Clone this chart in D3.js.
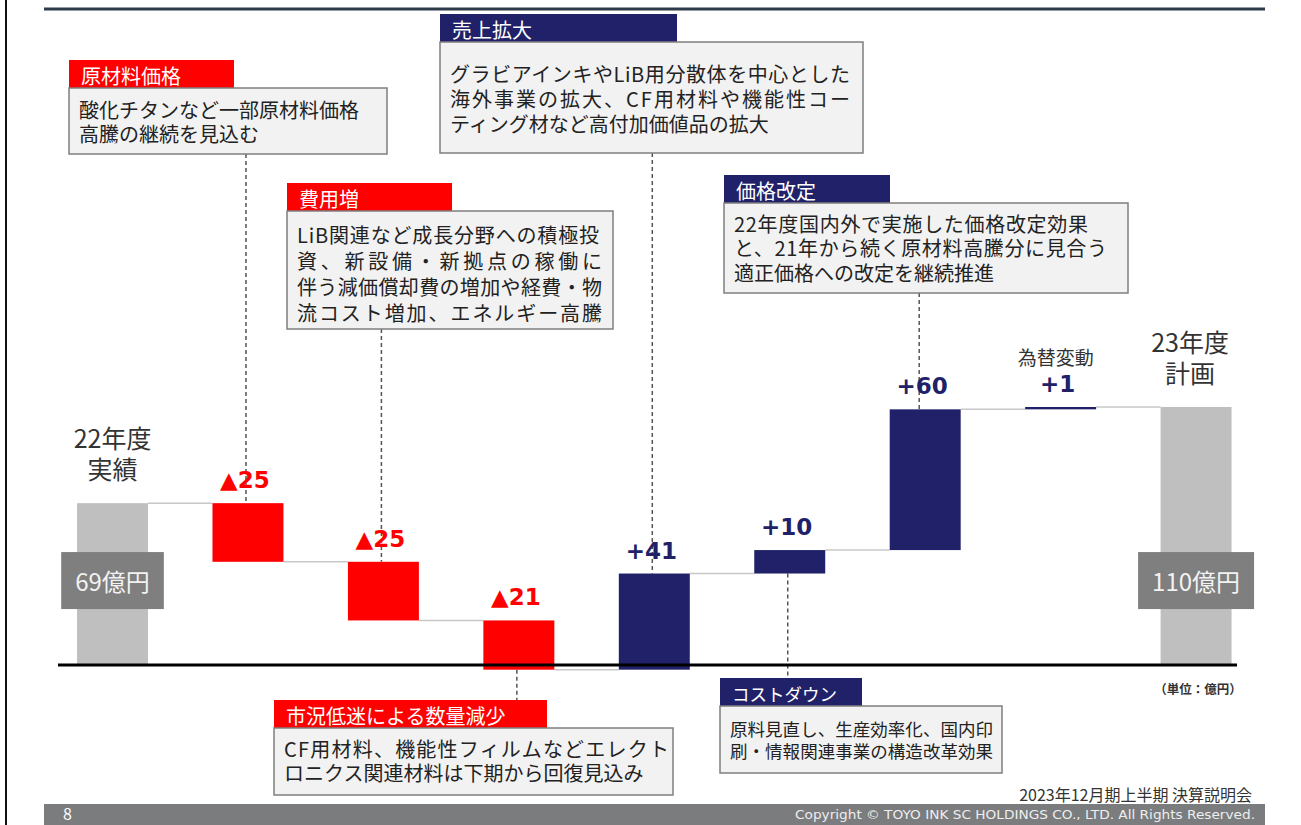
<!DOCTYPE html>
<html><head><meta charset="utf-8">
<script src="https://cdn.jsdelivr.net/npm/d3@7"></script>
<style>
body{margin:0;background:#fff}
svg{display:block}
text{font-family:"Noto Sans CJK JP","Noto Sans",sans-serif}
</style>
</head><body>
<svg id="c" width="1301" height="825"></svg>
<script>
// ---- data ----
const categories = ["22年度実績","原材料価格","費用増","市況低迷","売上拡大","コストダウン","価格改定","為替変動","23年度計画"];
const deltas = [69, -25, -25, -21, 41, 10, 60, 1, 110];
const kinds = ["total","dec","dec","dec","inc","inc","inc","inc","total"];
const valueLabels = ["69億円","▲25","▲25","▲21","+41","+10","+60","+1","110億円"];
const catLabels = [["22年度","実績"],[],[],[],[],[],[],["為替変動"],["23年度","計画"]];
const calloutCats = ["原材料価格","費用増","市況低迷","売上拡大","コストダウン","価格改定"];
const calloutTitles = ["原材料価格","費用増","市況低迷による数量減少","売上拡大","コストダウン","価格改定"];
const calloutLines = [
  ["酸化チタンなど一部原材料価格","高騰の継続を見込む"],
  ["LiB関連など成長分野への積極投","資、新設備・新拠点の稼働に","伴う減価償却費の増加や経費・物","流コスト増加、エネルギー高騰"],
  ["CF用材料、機能性フィルムなどエレクト","ロニクス関連材料は下期から回復見込み"],
  ["グラビアインキやLiB用分散体を中心とした","海外事業の拡大、CF用材料や機能性コー","ティング材など高付加価値品の拡大"],
  ["原料見直し、生産効率化、国内印","刷・情報関連事業の構造改革効果"],
  ["22年度国内外で実施した価格改定効果","と、21年から続く原材料高騰分に見合う","適正価格への改定を継続推進"]
];
const calloutColors = ["red","red","red","navy","navy","navy"];
const unitLabel = "（単位：億円）";
const eventLabel = "2023年12月期上半期 決算説明会";
const copyrightLabel = "Copyright ©  TOYO INK SC HOLDINGS CO., LTD. All Rights Reserved.";
const pageLabel = "8";

// ---- layout (positions / styles) ----
const COL = {red:"#ff0000", navy:"#202168", total:"#bfbfbf", box:"#7f7f7f"};
const calloutLayout = [
  {x:69,  hy:60,  hw:165, bw:318, bh:66,  fs:20,   first:21, gap:24,   just:[null,null], pos:"top"},
  {x:287, hy:183, hw:165, bw:326, bh:118, fs:20,   first:23, gap:26,   just:[302,305,305,305], pos:"top"},
  {x:274, hy:700, hw:273, bw:399, bh:67,  fs:20,   first:20, gap:24,   just:[385,null], pos:"bottom"},
  {x:440, hy:14,  hw:237, bw:423, bh:111, fs:20,   first:31, gap:25,   just:[400,400,null], pos:"top"},
  {x:720, hy:678, hw:142, bw:282, bh:67,  fs:17.5, first:22, gap:22,   just:[263,263], pos:"bottom"},
  {x:724, hy:175, hw:166, bw:404, bh:90,  fs:20,   first:20, gap:24.5, just:[354,373,null], pos:"top"}
];
const HEADER_H = 28;
const catLabelShift = {0:0, 8:-6, 7:-5};

const svg = d3.select("#c");
const x = d3.scaleBand().domain(categories).range([44.8,1263.8]).paddingInner(0.476).paddingOuter(0.238);
const y = d3.scaleLinear().domain([0,110]).range([665,407]);

// compute running totals
let run = 0;
const bars = categories.map((c,i)=>{
  let a,b;
  if(kinds[i]==="total"){a=0;b=deltas[i];run=deltas[i];}
  else {a=run;b=run+deltas[i];run=b;}
  return {c,i,a,b,kind:kinds[i],label:valueLabels[i]};
});

// frame
svg.append("line").attr("x1",6).attr("x2",6).attr("y1",0).attr("y2",825).attr("stroke","#111").attr("stroke-width",2);
svg.append("line").attr("x1",44).attr("x2",1265).attr("y1",9).attr("y2",9).attr("stroke","#2d3a4a").attr("stroke-width",3);

// connectors
bars.slice(0,-1).forEach((d,i)=>{
  const n = bars[i+1];
  svg.append("line")
    .attr("x1",x(d.c)+x.bandwidth()).attr("x2",x(n.c))
    .attr("y1",y(d.b)).attr("y2",y(d.b))
    .attr("stroke","#c8c8c8").attr("stroke-width",1.5);
});

// dashed leader lines
calloutCats.forEach((c,k)=>{
  const L = calloutLayout[k];
  const d = bars[categories.indexOf(c)];
  const cx = x(c)+x.bandwidth()/2 - (c==="価格改定"?6:2);
  let y1,y2;
  if(L.pos==="top"){y1=L.hy+HEADER_H+L.bh; y2=y(Math.max(d.a,d.b));}
  else {y1=y(Math.min(d.a,d.b)); y2=L.hy;}
  svg.append("line").attr("x1",cx).attr("x2",cx).attr("y1",y1).attr("y2",y2)
    .attr("stroke","#555").attr("stroke-width",1.5).attr("stroke-dasharray","4,3");
});

// bars
svg.selectAll("rect.bar").data(bars).join("rect").attr("class","bar")
  .attr("x",d=>x(d.c)).attr("width",x.bandwidth())
  .attr("y",d=>y(Math.max(d.a,d.b)))
  .attr("height",d=>Math.max(2,Math.abs(y(d.a)-y(d.b))))
  .attr("fill",d=>d.kind==="total"?COL.total:(d.kind==="dec"?COL.red:COL.navy));

// baseline
svg.append("line").attr("x1",58).attr("x2",1237).attr("y1",y(0)).attr("y2",y(0)).attr("stroke","#000").attr("stroke-width",3);

// value labels
bars.forEach(d=>{
  const cx = x(d.c)+x.bandwidth()/2;
  const top = y(Math.max(d.a,d.b));
  const sh = catLabelShift[d.i]||0;
  if(d.kind==="total"){
    const g = svg.append("g");
    const t = g.append("text").attr("x",cx).attr("y",y(36)).attr("text-anchor","middle")
      .attr("dominant-baseline","central").attr("fill","#f2f2f2").attr("font-size",24).text(d.label);
    const w = t.node().getComputedTextLength()+28;
    g.insert("rect","text").attr("x",cx-w/2).attr("y",y(36)-28.5).attr("width",w).attr("height",57).attr("fill",COL.box);
    catLabels[d.i].forEach((s,j)=>{
      svg.append("text").attr("x",cx+sh).attr("y",top-66+j*31).attr("text-anchor","middle")
        .attr("dominant-baseline","central").attr("fill","#333").attr("font-size",25).text(s);
    });
  } else {
    svg.append("text").attr("x",cx-3).attr("y",top-23).attr("text-anchor","middle")
      .attr("dominant-baseline","central").style("font-family","'DejaVu Sans', Verdana, sans-serif").attr("font-weight","bold")
      .attr("font-size",23).attr("fill",d.kind==="dec"?COL.red:COL.navy).text(d.label);
    catLabels[d.i].forEach((s,j)=>{
      svg.append("text").attr("x",cx+sh).attr("y",top-51+j*30).attr("text-anchor","middle")
        .attr("dominant-baseline","central").attr("fill","#333").attr("font-size",19).text(s);
    });
  }
});

// callouts
calloutTitles.forEach((title,k)=>{
  const L = calloutLayout[k];
  const g = svg.append("g");
  g.append("rect").attr("x",L.x).attr("y",L.hy).attr("width",L.hw).attr("height",HEADER_H)
    .attr("fill",calloutColors[k]==="red"?COL.red:COL.navy);
  g.append("text").attr("x",L.x+12).attr("y",L.hy+HEADER_H/2+1).attr("dominant-baseline","central")
    .attr("fill","#fff").attr("font-size",L.fs).text(title);
  g.append("rect").attr("x",L.x).attr("y",L.hy+HEADER_H).attr("width",L.bw).attr("height",L.bh)
    .attr("fill","#f2f2f2").attr("stroke","#7f7f7f").attr("stroke-width",1.5);
  calloutLines[k].forEach((s,j)=>{
    const t = g.append("text").attr("x",L.x+10).attr("y",L.hy+HEADER_H+L.first+j*L.gap)
      .attr("dominant-baseline","central").attr("fill","#222").attr("font-size",L.fs).text(s);
    if(L.just[j]) t.attr("textLength",L.just[j]).attr("lengthAdjust","spacing");
  });
});

// unit label
svg.append("text").attr("x",1198).attr("y",688).attr("text-anchor","middle").attr("dominant-baseline","central")
  .attr("font-size",12.5).attr("font-weight","bold").attr("fill","#333").text(unitLabel);

// footer
svg.append("text").attr("x",1252).attr("y",794).attr("text-anchor","end").attr("dominant-baseline","central")
  .attr("font-size",16).attr("fill","#333").text(eventLabel);
svg.append("rect").attr("x",44).attr("y",804).attr("width",1221).attr("height",21).attr("fill","#7a7c7e");
svg.append("text").attr("x",63).attr("y",820).attr("font-size",16)
  .attr("fill","#fff").text(pageLabel);
svg.append("text").attr("x",1255).attr("y",819).attr("text-anchor","end")
  .style("font-family","'DejaVu Sans', Verdana, sans-serif").attr("font-size",11.5).attr("fill","#eee")
  .attr("textLength",460).attr("lengthAdjust","spacingAndGlyphs").text(copyrightLabel);
</script>
</body></html>
